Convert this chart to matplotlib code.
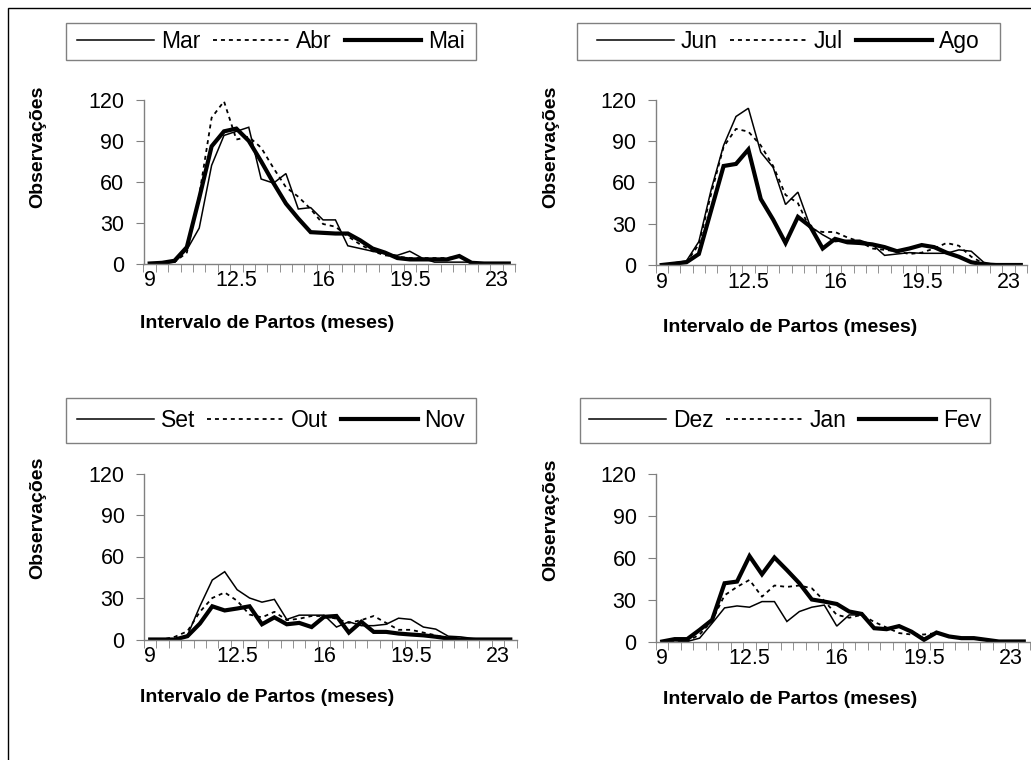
import matplotlib
matplotlib.use("Agg")
import matplotlib.pyplot as plt
from matplotlib.patches import Rectangle
from matplotlib.lines import Line2D

plt.rcParams['font.family'] = ['Liberation Sans', 'DejaVu Sans']

W, H = 1031, 760

# Category axis: calving interval (months)
months = [9.0, 9.5, 10.0, 10.5, 11.0, 11.5, 12.0, 12.5, 13.0, 13.5,
          14.0, 14.5, 15.0, 15.5, 16.0, 16.5, 17.0, 17.5, 18.0, 18.5,
          19.0, 19.5, 20.0, 20.5, 21.0, 21.5, 22.0, 22.5, 23.0, 23.5]
tick_labels = ["9", "12.5", "16", "19.5", "23"]
tick_label_pos = [9.0, 12.5, 16.0, 19.5, 23.0]
yticks = [0, 30, 60, 90, 120]

mar = [0, 0, 1, 10, 26, 72, 94, 97, 100, 62, 59, 66, 40, 41, 32, 32, 13, 11, 9, 7, 6, 9, 4, 1, 1, 1, 1, 0, 0, 0]
abr = [0, 0, 1, 8, 50, 107, 119, 91, 93, 85, 70, 56, 49, 40, 29, 27, 20, 14, 9, 6, 5, 4, 4, 4, 4, 5, 1, 0, 0, 0]
mai = [0, 0.5, 2, 12, 48, 86, 97, 99, 90, 75, 59, 44, 33, 23, 22.5, 22, 22, 17, 11, 8, 4, 3, 3, 3, 3, 5.5, 0.5, 0, 0, 0]

jun = [0, 1.5, 3, 17, 55, 87, 108, 114, 82, 71, 44, 53, 28, 22, 17, 18, 18, 15, 7, 8, 9, 8.5, 8.5, 8.5, 11, 10, 2, 0, 0, 0]
jul = [0, 1, 2, 15, 52, 86, 99, 97, 87, 72, 51, 45, 26, 24, 24, 20, 17, 12, 11, 10, 8, 9, 12, 16, 14, 6, 1, 0, 0, 0]
ago = [0, 1, 2, 8, 40, 72, 73.5, 84, 48, 33, 16, 35, 28, 12, 19, 16.5, 16, 15, 13, 10, 12, 14.5, 13, 9, 6, 2, 0.5, 0, 0, 0]

set_ = [0, 0, 0, 3, 24, 43, 49, 36, 30, 27, 29, 14.5, 17.6, 17.6, 17.6, 9, 12.8, 10, 10, 11, 15.4, 14.5, 9, 7.5, 2.4, 1.9, 0.7, 0, 0, 0]
out = [0, 0, 2, 6, 20, 30, 34, 28, 18, 16, 20, 14, 15, 17, 17, 15, 12, 14, 17, 12, 7, 7, 5, 3, 1, 1, 0, 0, 0, 0]
nov = [0, 0, 0, 2.4, 11.5, 24, 21, 22.4, 24, 11, 16, 11, 12, 9, 16.4, 17, 5, 12.8, 5.5, 5.5, 4.3, 3.6, 3, 2, 0.7, 0, 0, 0, 0, 0]

dez = [0, 0.5, 0, 2.4, 13, 24, 25.4, 24.5, 28.5, 28.5, 14.3, 21.4, 24.5, 26, 11, 19, 19, 9.5, 9.5, 10.7, 7, 2.4, 6, 3.6, 2.4, 2.4, 0.7, 0, 0, 0]
jan = [0, 0.5, 0, 5, 15, 33, 39, 44, 32, 40, 39, 40, 38, 29, 19, 17, 19, 14, 10, 6, 5, 5, 6, 4, 2, 2, 1, 0, 0, 0]
fev = [0, 1.7, 1.7, 8.3, 15.4, 41.6, 42.8, 61, 48, 60, 51, 41.6, 30, 28.5, 26.8, 21.4, 19.7, 9.5, 8.8, 11, 7, 1.2, 6.4, 3.6, 2.4, 2.4, 1.2, 0, 0, 0]

panels = [
    (["Mar", "Abr", "Mai"], [mar, abr, mai]),
    (["Jun", "Jul", "Ago"], [jun, jul, ago]),
    (["Set", "Out", "Nov"], [set_, out, nov]),
    (["Dez", "Jan", "Fev"], [dez, jan, fev]),
]

# pixel boxes (x0, y0, x1, y1) for plot areas
axes_px = [(143.5, 100, 515, 263.5), (655.5, 100, 1027, 265),
           (144, 473.5, 516.5, 639.5), (656, 473.5, 1030, 641.5)]
legend_px = [(66, 23, 476, 60), (577, 23, 1000, 60),
             (66, 398, 476, 443), (580, 398, 990, 443)]
xlabel_px = [(267, 323), (790, 327), (267, 697), (790, 700)]
ylabel_px = [(38, 147), (551, 147), (38, 518), (551, 520)]

styles = [dict(color="black", lw=1.1, ls="-"),
          dict(color="black", lw=1.3, ls=(0, (2.2, 2.2))),
          dict(color="black", lw=3.0, ls="-")]

fig = plt.figure(figsize=(W / 100, H / 100), dpi=100)
fig.patches.append(Rectangle((7.5 / W, 1 - 1000 / H), 1100 / W, (1000 - 7.5) / H,
                             transform=fig.transFigure, fill=False,
                             edgecolor="black", lw=1.0))

axis_gray = "#808080"
for (names, series), (x0, y0, x1, y1), lb, xl, yl in zip(panels, axes_px, legend_px, xlabel_px, ylabel_px):
    ax = fig.add_axes([x0 / W, 1 - y1 / H, (x1 - x0) / W, (y1 - y0) / H])
    for s, st in zip(series, styles):
        ax.plot(months, s, solid_joinstyle="miter", **st)
    ax.set_xlim(8.75, 23.75)
    ax.set_ylim(0, 120)
    for sp in ["top", "right"]:
        ax.spines[sp].set_visible(False)
    for sp in ["left", "bottom"]:
        ax.spines[sp].set_color(axis_gray)
        ax.spines[sp].set_linewidth(1.0)
    ax.set_yticks(yticks)
    ax.set_yticklabels([str(v) for v in yticks], fontsize=15.5)
    ax.tick_params(axis="y", direction="out", length=6, color=axis_gray, pad=8)
    ax.set_xticks(tick_label_pos)
    ax.set_xticklabels(tick_labels, fontsize=15.5)
    ax.tick_params(axis="x", which="major", length=0, pad=5)
    bounds = [m - 0.25 for m in months] + [months[-1] + 0.25]
    ax.set_xticks(bounds, minor=True)
    ax.tick_params(axis="x", which="minor", direction="out", length=6, color=axis_gray)
    ax.patch.set_alpha(0)

    fig.text(xl[0] / W, 1 - xl[1] / H, "Intervalo de Partos (meses)", fontsize=14,
             fontweight="bold", ha="center", va="center")
    fig.text(yl[0] / W, 1 - yl[1] / H, "Observações", fontsize=14,
             fontweight="bold", ha="center", va="center", rotation=90)

    bx0, by0, bx1, by1 = lb
    fig.patches.append(Rectangle((bx0 / W, 1 - by1 / H), (bx1 - bx0) / W, (by1 - by0) / H,
                                 transform=fig.transFigure, fill=True, facecolor="white",
                                 edgecolor=axis_gray, lw=1.0))
    handles = [Line2D([], [], **st) for st in styles]
    leg = fig.legend(handles, names, loc="center",
                     bbox_to_anchor=((bx0 + bx1) / 2 / W, 1 - (by0 + by1) / 2 / H),
                     ncol=3, fontsize=16.5, frameon=False,
                     handlelength=3.35, handletextpad=0.3, columnspacing=0.55,
                     borderpad=0.0, borderaxespad=0)

fig.savefig("out.png", dpi=100)
